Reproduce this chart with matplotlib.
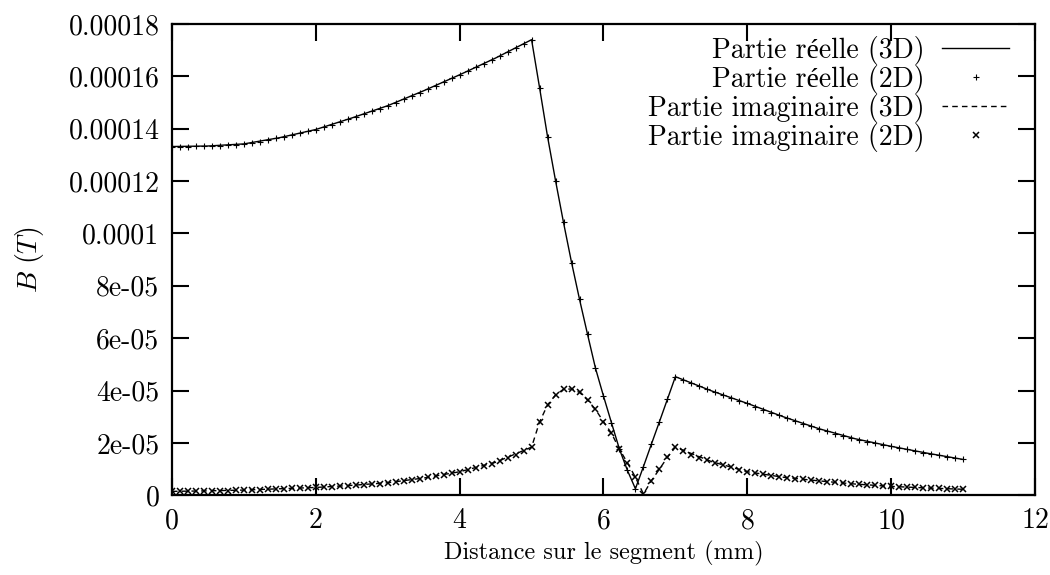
import numpy as np
import matplotlib
matplotlib.use("Agg")
import matplotlib.pyplot as plt
from matplotlib.ticker import FixedLocator, FixedFormatter

# values are in units of 1e-5 T
B_UNIT = 1e-5

# 2D (Flux2D) sample points, step 1/9 mm
x_2d = np.arange(100) / 9.0

real_2d = [
    13.32, 13.32, 13.32, 13.33, 13.33, 13.34, 13.35, 13.37, 13.39, 13.42,
    13.46, 13.51, 13.57, 13.63, 13.70, 13.77, 13.84, 13.91, 13.97, 14.06,
    14.16, 14.26, 14.36, 14.46, 14.56, 14.66, 14.77, 14.88, 15.00, 15.13,
    15.26, 15.38, 15.51, 15.65, 15.78, 15.92, 16.06, 16.20, 16.34, 16.48,
    16.62, 16.77, 16.92, 17.08, 17.24, 17.40, 15.57, 13.70, 12.02, 10.42,
    8.89, 7.48, 6.15, 4.85, 3.79, 2.77, 1.76, 0.95, 0.25, 1.10,
    1.96, 2.81, 3.67, 4.53, 4.41, 4.29, 4.17, 4.05, 3.94, 3.83,
    3.72, 3.61, 3.51, 3.39, 3.27, 3.16, 3.05, 2.94, 2.84, 2.74,
    2.64, 2.54, 2.44, 2.36, 2.28, 2.20, 2.12, 2.05, 1.99, 1.93,
    1.87, 1.81, 1.75, 1.69, 1.63, 1.58, 1.53, 1.48, 1.43, 1.37,
]

imag_2d = [
    0.15, 0.15, 0.16, 0.16, 0.17, 0.17, 0.18, 0.18, 0.19, 0.20,
    0.21, 0.22, 0.23, 0.24, 0.25, 0.26, 0.27, 0.28, 0.30, 0.32,
    0.33, 0.35, 0.37, 0.39, 0.41, 0.43, 0.45, 0.48, 0.51, 0.55,
    0.59, 0.64, 0.69, 0.74, 0.79, 0.84, 0.90, 0.97, 1.04, 1.12,
    1.21, 1.31, 1.42, 1.54, 1.68, 1.84, 2.80, 3.45, 3.83, 4.05,
    4.06, 3.93, 3.64, 3.28, 2.81, 2.37, 1.76, 1.24, 0.69, 0.05,
    0.56, 1.00, 1.45, 1.84, 1.70, 1.55, 1.44, 1.34, 1.25, 1.16,
    1.07, 0.98, 0.90, 0.85, 0.80, 0.75, 0.71, 0.67, 0.64, 0.61,
    0.58, 0.55, 0.52, 0.49, 0.46, 0.44, 0.42, 0.40, 0.38, 0.36,
    0.34, 0.32, 0.31, 0.30, 0.29, 0.27, 0.26, 0.25, 0.24, 0.23,
]

# 3D curves
x_3d = [0, 0.5, 1, 1.5, 2, 2.5, 3, 3.5, 4, 4.5, 5,
        5.111, 5.222, 5.333, 5.444, 5.556, 5.667, 5.778, 5.889, 6,
        6.111, 6.222, 6.333, 6.444, 6.556, 6.667, 6.778, 6.889, 7,
        7.5, 8, 8.5, 9, 9.5, 10, 10.5, 11]

real_3d = [13.32, 13.34, 13.42, 13.66, 13.97, 14.41, 14.88, 15.45, 16.06, 16.70, 17.40,
           15.57, 13.70, 12.02, 10.42, 8.89, 7.48, 6.15, 4.85, 3.79,
           2.77, 1.76, 0.95, 0.25, 1.10, 1.96, 2.81, 3.67, 4.53,
           3.99, 3.51, 3.00, 2.54, 2.16, 1.87, 1.61, 1.37]

imag_3d = [0.15, 0.17, 0.20, 0.25, 0.30, 0.38, 0.48, 0.66, 0.90, 1.26, 1.84,
           2.80, 3.45, 3.83, 4.05, 4.06, 3.93, 3.64, 3.28, 2.81,
           2.37, 1.76, 1.24, 0.69, 0.05, 0.56, 1.00, 1.45, 1.84,
           1.29, 0.90, 0.69, 0.55, 0.43, 0.34, 0.28, 0.23]

y_ticks = [0, 2e-5, 4e-5, 6e-5, 8e-5, 1e-4, 1.2e-4, 1.4e-4, 1.6e-4, 1.8e-4]
y_tick_labels = ['0', '2e-05', '4e-05', '6e-05', '8e-05', '0.0001',
                 '0.00012', '0.00014', '0.00016', '0.00018']
x_ticks = [0, 2, 4, 6, 8, 10, 12]

labels = ['Partie réelle (3D)', 'Partie réelle (2D)',
          'Partie imaginaire (3D)', 'Partie imaginaire (2D)']


def main():
    # cmr10 has no accented letters, so é comes from the next family
    plt.rcParams['font.family'] = ['cmr10', 'Liberation Serif']
    plt.rcParams['mathtext.fontset'] = 'cm'
    plt.rcParams['font.size'] = 20

    fig = plt.figure(figsize=(10.5, 5.75), dpi=100)
    ax = fig.add_axes([0.1638, 0.1386, 0.8219, 0.8197])

    s = B_UNIT
    ax.plot(x_3d, np.array(real_3d) * s, '-', color='black', lw=1.0, label=labels[0])
    ax.plot(x_2d, np.array(real_2d) * s, '+', color='black', ms=5, mew=0.8,
            linestyle='', label=labels[1])
    ax.plot(x_3d, np.array(imag_3d) * s, '--', color='black', lw=1.0,
            dashes=(4, 3), label=labels[2])
    ax.plot(x_2d, np.array(imag_2d) * s, 'x', color='black', ms=4.5, mew=1.1,
            linestyle='', label=labels[3])

    ax.set_xlim(0, 12)
    ax.set_ylim(0, 1.8e-4)
    ax.xaxis.set_major_locator(FixedLocator(x_ticks))
    ax.yaxis.set_major_locator(FixedLocator(y_ticks))
    ax.yaxis.set_major_formatter(FixedFormatter(y_tick_labels))
    ax.set_xticklabels([str(t) for t in x_ticks])

    ax.tick_params(direction='in', length=12, width=1.5, top=True, right=True,
                   labelsize=20, pad=9)
    for sp in ax.spines.values():
        sp.set_linewidth(1.6)

    ax.set_xlabel('Distance sur le segment (mm)', fontsize=17.5, labelpad=5)
    ax.set_ylabel(r'$B\ (T)$', fontsize=20, labelpad=16)

    ax.legend(loc='upper right', bbox_to_anchor=(0.97, 0.975), frameon=False,
              markerfirst=False, borderaxespad=0, borderpad=0,
              handlelength=2.4, handletextpad=0.65, labelspacing=0.0,
              fontsize=20)

    fig.savefig('out.png', dpi=100)


if __name__ == "__main__":
    main()
